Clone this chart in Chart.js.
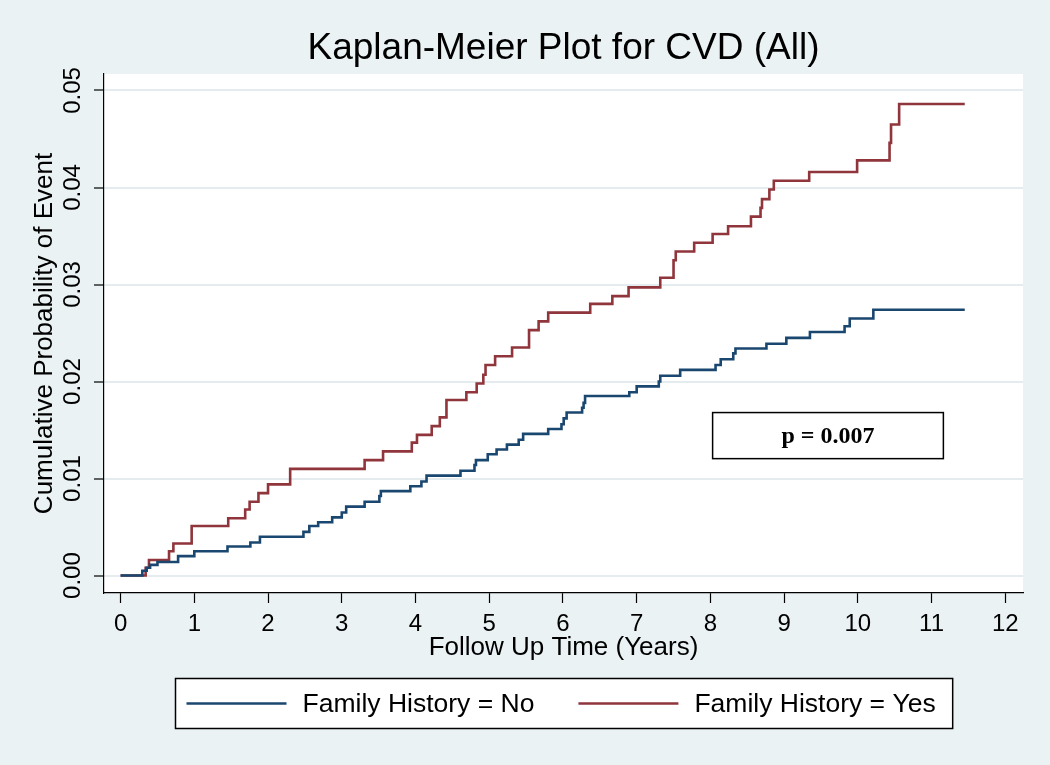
<!DOCTYPE html>
<html>
<head>
<meta charset="utf-8">
<title>Kaplan-Meier Plot for CVD (All)</title>
<script src="https://cdn.jsdelivr.net/npm/chart.js@4/dist/chart.umd.min.js"></script>
<style>
  html, body { margin: 0; padding: 0; background: #eaf2f3; }
  canvas { display: block; }
</style>
</head>
<body>
<canvas id="km" width="1050" height="765"></canvas>
<script>
const timeNo = [0, 0.295, 0.354, 0.40, 0.50, 0.78, 1.0, 1.45, 1.76, 1.89,
    2.48, 2.56, 2.68, 2.87, 3.0, 3.06, 3.31, 3.51, 3.53, 3.93,
    4.08, 4.15, 4.61, 4.80, 4.82, 4.98, 5.10, 5.24, 5.40, 5.46,
    5.80, 5.98, 6.01, 6.05, 6.26, 6.28, 6.30, 6.90, 7.0, 7.30,
    7.32, 7.59, 8.07, 8.14, 8.31, 8.34, 8.76, 9.03, 9.35, 9.82,
    9.89, 10.21, 11.45];
const cumNo = [0, 0.0005, 0.0008, 0.0011, 0.0014, 0.0020, 0.0025, 0.0030, 0.0034, 0.0040,
    0.0045, 0.0051, 0.0055, 0.0060, 0.0065, 0.0071, 0.0076, 0.0082, 0.0087, 0.0092,
    0.0097, 0.0103, 0.0108, 0.0114, 0.0119, 0.0125, 0.0130, 0.0135, 0.0140, 0.0146,
    0.0151, 0.0156, 0.0162, 0.0168, 0.0173, 0.0178, 0.0185, 0.0189, 0.0195, 0.0200,
    0.0206, 0.0212, 0.0217, 0.0223, 0.0229, 0.0234, 0.0239, 0.0245, 0.0251, 0.0257,
    0.0265, 0.0274, 0.0274];

const timeYes = [0, 0.34, 0.385, 0.657, 0.716, 0.964, 1.46, 1.69, 1.75, 1.87,
    2.0, 2.30, 3.31, 3.56, 3.95, 4.02, 4.22, 4.33, 4.42, 4.69,
    4.83, 4.92, 4.95, 5.08, 5.31, 5.54, 5.67, 5.80, 6.37, 6.67,
    6.89, 7.32, 7.50, 7.53, 7.78, 8.03, 8.24, 8.55, 8.68, 8.70,
    8.80, 8.86, 9.34, 9.99, 10.43, 10.45, 10.56, 11.45];
const cumYes = [0, 0.0008, 0.0016, 0.0025, 0.0033, 0.0051, 0.0059, 0.0068, 0.0076, 0.0085,
    0.0094, 0.0110, 0.0119, 0.0128, 0.0137, 0.0145, 0.0154, 0.0163, 0.0181, 0.0189,
    0.0198, 0.0207, 0.0217, 0.0226, 0.0235, 0.0253, 0.0262, 0.0271, 0.0280, 0.0288,
    0.0297, 0.0307, 0.0325, 0.0334, 0.0343, 0.0352, 0.0360, 0.0370, 0.0379, 0.0388,
    0.0398, 0.0407, 0.0416, 0.0428, 0.0446, 0.0465, 0.0486, 0.0486];

const xTicks = [0, 1, 2, 3, 4, 5, 6, 7, 8, 9, 10, 11, 12];
const yTicks = [0, 0.01, 0.02, 0.03, 0.04, 0.05];
const seriesLabels = ['Family History = No', 'Family History = Yes'];
const seriesColors = ['#1a476f', '#90353b'];
const pText = 'p = 0.007';

const FONT = "'Liberation Sans', Arial, Helvetica, sans-serif";
const bgColor = '#eaf2f3';
const gridColor = '#e4ecef';

const toPoints = (xs, ys) => xs.map((t, i) => ({x: t, y: ys[i]}));

// stata style: light graph region, white plot region
const plotBg = {
    id: 'plotBg',
    beforeDraw: (chart) => {
        const {ctx, chartArea: a} = chart;
        ctx.save();
        ctx.fillStyle = bgColor;
        ctx.fillRect(0, 0, chart.width, chart.height);
        ctx.fillStyle = '#fff';
        ctx.fillRect(a.left, a.top, a.right - a.left, a.bottom - a.top);
        ctx.restore();
    }
};

// the log-rank p value box, placed in data units
const pBox = {
    id: 'pBox',
    afterDatasetsDraw: (chart) => {
        const {ctx, scales: {x, y}} = chart;
        const l = x.getPixelForValue(8.03), r = x.getPixelForValue(11.16);
        const t = y.getPixelForValue(0.0168), b = y.getPixelForValue(0.01205);
        ctx.save();
        ctx.fillStyle = '#fff';
        ctx.fillRect(l, t, r - l, b - t);
        ctx.strokeStyle = '#000';
        ctx.lineWidth = 1.5;
        ctx.strokeRect(l, t, r - l, b - t);
        ctx.fillStyle = '#000';
        ctx.font = "bold 24px 'Liberation Serif', 'Times New Roman', serif";
        ctx.textAlign = 'center';
        ctx.textBaseline = 'middle';
        ctx.fillText(pText, (l + r) / 2, (t + b) / 2 + 1);
        ctx.restore();
    }
};

// boxed legend under the x axis title
const boxLegend = {
    id: 'boxLegend',
    afterDraw: (chart) => {
        const {ctx, chartArea: a} = chart;
        const sets = chart.data.datasets;
        ctx.save();
        ctx.font = '26.5px ' + FONT;
        const sw = 100, gap = 16, sep = 44, padL = 11, padR = 17;
        const widths = sets.map(d => ctx.measureText(d.label).width);
        const total = padL + padR + widths.reduce((s, w) => s + sw + gap + w, 0) + sep * (sets.length - 1);
        const left = Math.round((a.left + a.right) / 2 - total / 2) + 0.5;
        const top = 678.5, h = 50, cy = top + h / 2;
        ctx.fillStyle = '#fff';
        ctx.fillRect(left, top, total, h);
        ctx.strokeStyle = '#000';
        ctx.lineWidth = 1.5;
        ctx.strokeRect(left, top, total, h);
        let cx = left + padL;
        sets.forEach((d, i) => {
            ctx.strokeStyle = d.borderColor;
            ctx.lineWidth = 2.6;
            ctx.beginPath();
            ctx.moveTo(cx, cy);
            ctx.lineTo(cx + sw, cy);
            ctx.stroke();
            cx += sw + gap;
            ctx.fillStyle = '#000';
            ctx.textAlign = 'left';
            ctx.textBaseline = 'middle';
            ctx.fillText(d.label, cx, cy + 1);
            cx += widths[i] + sep;
        });
        ctx.restore();
    }
};

const kmChart = new Chart(document.getElementById('km').getContext('2d'), {
    type: 'line',
    data: {
        datasets: [
            {
                label: seriesLabels[0],
                data: toPoints(timeNo, cumNo),
                borderColor: seriesColors[0],
                borderWidth: 2.6,
                stepped: true,
                pointRadius: 0,
                fill: false
            },
            {
                label: seriesLabels[1],
                data: toPoints(timeYes, cumYes),
                borderColor: seriesColors[1],
                borderWidth: 2.6,
                stepped: true,
                pointRadius: 0,
                fill: false
            }
        ]
    },
    options: {
        responsive: false,
        animation: false,
        devicePixelRatio: 1,
        layout: {
            padding: {left: 0, right: 27, top: 0, bottom: 92}
        },
        plugins: {
            legend: {display: false},
            tooltip: {enabled: false},
            title: {
                display: true,
                fullSize: false,
                text: 'Kaplan-Meier Plot for CVD (All)',
                color: '#000',
                font: {family: FONT, size: 37, weight: 'normal'},
                padding: {top: 27, bottom: 2.6}
            }
        },
        scales: {
            x: {
                type: 'linear',
                min: -0.225,
                max: 12.24,
                afterBuildTicks: (scale) => {
                    scale.ticks = xTicks.map(v => ({value: v}));
                },
                afterFit: (scale) => {
                    scale.height = 80;
                },
                ticks: {
                    color: '#000',
                    font: {family: FONT, size: 24},
                    padding: 7,
                    maxRotation: 0,
                    autoSkip: false
                },
                grid: {
                    drawOnChartArea: false,
                    drawTicks: true,
                    tickLength: 10,
                    tickColor: '#000',
                    tickWidth: 1.2
                },
                border: {display: true, color: '#000', width: 1.2},
                title: {
                    display: true,
                    text: 'Follow Up Time (Years)',
                    color: '#000',
                    font: {family: FONT, size: 26},
                    padding: {top: 0, bottom: 9.4}
                }
            },
            y: {
                type: 'linear',
                min: -0.0018,
                max: 0.0517,
                afterBuildTicks: (scale) => {
                    scale.ticks = yTicks.map(v => ({value: v}));
                },
                afterFit: (scale) => {
                    scale.width = 104;
                },
                ticks: {
                    color: '#000',
                    font: {family: FONT, size: 24},
                    padding: -3,
                    minRotation: 90,
                    maxRotation: 90,
                    crossAlign: 'center',
                    autoSkip: false,
                    callback: (v) => v.toFixed(2)
                },
                grid: {
                    color: gridColor,
                    lineWidth: 2,
                    drawTicks: true,
                    tickLength: 10,
                    tickColor: '#000',
                    tickWidth: 1.2
                },
                border: {display: true, color: '#000', width: 1.2},
                title: {
                    display: true,
                    text: 'Cumulative Probability of Event',
                    color: '#000',
                    font: {family: FONT, size: 26},
                    padding: {top: 29, bottom: 0}
                }
            }
        }
    },
    plugins: [plotBg, pBox, boxLegend]
});
</script>
</body>
</html>
